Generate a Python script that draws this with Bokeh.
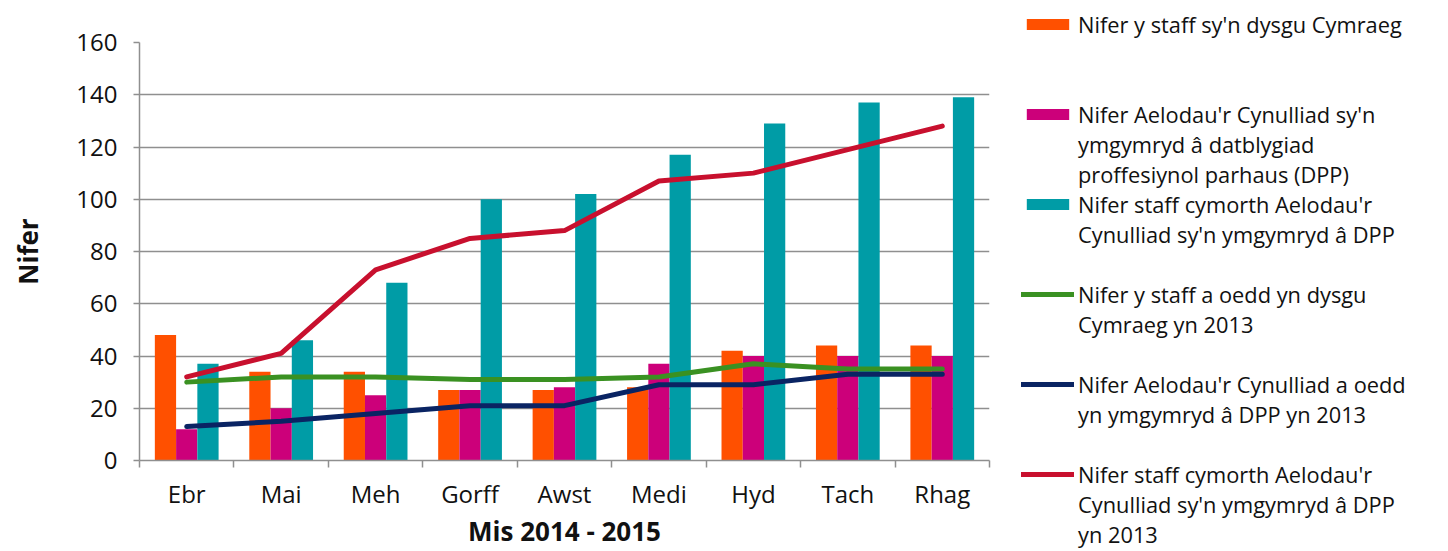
from bokeh.plotting import figure
from bokeh.models import Range1d, FixedTicker, ColumnDataSource, Legend, LegendItem
from bokeh.transform import dodge
from bokeh.embed import file_html
from bokeh.resources import INLINE

# ---- data ----
months = ["Ebr", "Mai", "Meh", "Gorff", "Awst", "Medi", "Hyd", "Tach", "Rhag"]
staff_learning = [48, 34, 34, 27, 27, 28, 42, 44, 44]
members_cpd = [12, 20, 25, 27, 28, 37, 40, 40, 40]
support_staff_cpd = [37, 46, 68, 100, 102, 117, 129, 137, 139]
staff_learning_2013 = [30, 32, 32, 31, 31, 32, 37, 35, 35]
members_cpd_2013 = [13, 15, 18, 21, 21, 29, 29, 33, 33]
support_staff_cpd_2013 = [32, 41, 73, 85, 88, 107, 110, 119, 128]
y_ticks = [0, 20, 40, 60, 80, 100, 120, 140, 160]

series_names = [
    ["Nifer y staff sy'n dysgu Cymraeg"],
    ["Nifer Aelodau'r Cynulliad sy'n", "ymgymryd â datblygiad", "proffesiynol parhaus (DPP)"],
    ["Nifer staff cymorth Aelodau'r", "Cynulliad sy'n ymgymryd â DPP"],
    ["Nifer y staff a oedd yn dysgu", "Cymraeg yn 2013"],
    ["Nifer Aelodau'r Cynulliad a oedd", "yn ymgymryd â DPP yn 2013"],
    ["Nifer staff cymorth Aelodau'r", "Cynulliad sy'n ymgymryd â DPP", "yn 2013"],
]
x_title = "Mis 2014 - 2015"
y_title = "Nifer"
bar_colors = ["#FF5000", "#CC007A", "#009CA6"]
line_colors = ["#3A9122", "#0A2463", "#C8102E"]

FONT = "Open Sans"
TEXT = "#111111"
GRID = "#8f8f8f"

W, H = 1440, 551
F_LEFT, F_TOP, F_W, F_H = 139, 42, 850, 421

idx = list(range(len(months)))
src = ColumnDataSource(dict(
    x=idx,
    orange=staff_learning,
    magenta=members_cpd,
    teal=support_staff_cpd,
    green=staff_learning_2013,
    navy=members_cpd_2013,
    red=support_staff_cpd_2013,
))

p = figure(height=H, frame_width=F_W, output_backend="svg", toolbar_location=None,
           x_range=Range1d(-0.5, len(months) - 0.5), y_range=Range1d(0, 160),
           min_border_left=F_LEFT, min_border_right=W - F_LEFT - F_W,
           min_border_top=F_TOP, min_border_bottom=H - F_TOP - F_H)
p.outline_line_color = None
p.background_fill_color = "white"

renderers = []
bw = 0.225
for col, off, color in zip(["orange", "magenta", "teal"], [-bw, 0.0, bw], bar_colors):
    renderers.append(p.vbar(x=dodge("x", off), top=col, bottom=0, width=bw, source=src,
                            fill_color=color, line_color=None))

for col, color in zip(["green", "navy", "red"], line_colors):
    renderers.append(p.line(x="x", y=col, source=src, line_color=color, line_width=5,
                            line_cap="round", line_join="round"))

# axes
yax = p.yaxis[0]
yax.ticker = FixedTicker(ticks=y_ticks)
yax.axis_line_color = GRID
yax.axis_line_width = 1.5
yax.major_tick_line_color = GRID
yax.major_tick_line_width = 1.5
yax.major_tick_out = 6
yax.major_tick_in = 0
yax.minor_tick_line_color = None
yax.major_label_standoff = 16
yax.major_label_text_font = FONT
yax.major_label_text_font_size = "24px"
yax.major_label_text_color = TEXT
yax.axis_label = y_title
yax.axis_label_text_font = FONT
yax.axis_label_text_font_style = "bold"
yax.axis_label_text_font_size = "26px"
yax.axis_label_text_color = TEXT
yax.axis_label_standoff = 27

xax = p.xaxis[0]
xax.ticker = FixedTicker(ticks=idx, minor_ticks=[i - 0.5 for i in range(len(months) + 1)])
xax.major_label_overrides = {i: m for i, m in zip(idx, months)}
xax.axis_line_color = GRID
xax.axis_line_width = 1.5
xax.major_tick_line_color = None
xax.major_tick_out = 0
xax.major_tick_in = 0
xax.minor_tick_line_color = GRID
xax.minor_tick_line_width = 1.5
xax.minor_tick_out = 7
xax.minor_tick_in = 0
xax.major_label_standoff = 9
xax.major_label_text_font = FONT
xax.major_label_text_font_size = "24px"
xax.major_label_text_color = TEXT
xax.axis_label = x_title
xax.axis_label_text_font = FONT
xax.axis_label_text_font_style = "bold"
xax.axis_label_text_font_size = "26px"
xax.axis_label_text_color = TEXT
xax.axis_label_standoff = 0

p.xgrid.grid_line_color = None
p.ygrid.ticker = FixedTicker(ticks=y_ticks)
p.ygrid.grid_line_color = GRID
p.ygrid.grid_line_width = 1.5

# ---- legend: one row per text line, blank rows as gaps ----
gaps_after = [2, 0, 1, 1, 1, 0]
items = []
for k, lines in enumerate(series_names):
    for j, s in enumerate(lines):
        items.append(LegendItem(label=s, renderers=[renderers[k]] if j == 0 else []))
    for _ in range(gaps_after[k]):
        items.append(LegendItem(label=" ", renderers=[]))

legend = Legend(items=items, location=(32, -89), orientation="vertical",
                padding=0, margin=0, spacing=0,
                glyph_width=53, glyph_height=14, label_height=30, label_standoff=4,
                label_text_font=FONT, label_text_font_size="21.8px", label_text_color=TEXT,
                border_line_color=None, background_fill_alpha=0)
p.add_layout(legend, "right")

open("out.html", "w").write(file_html(p, INLINE))
